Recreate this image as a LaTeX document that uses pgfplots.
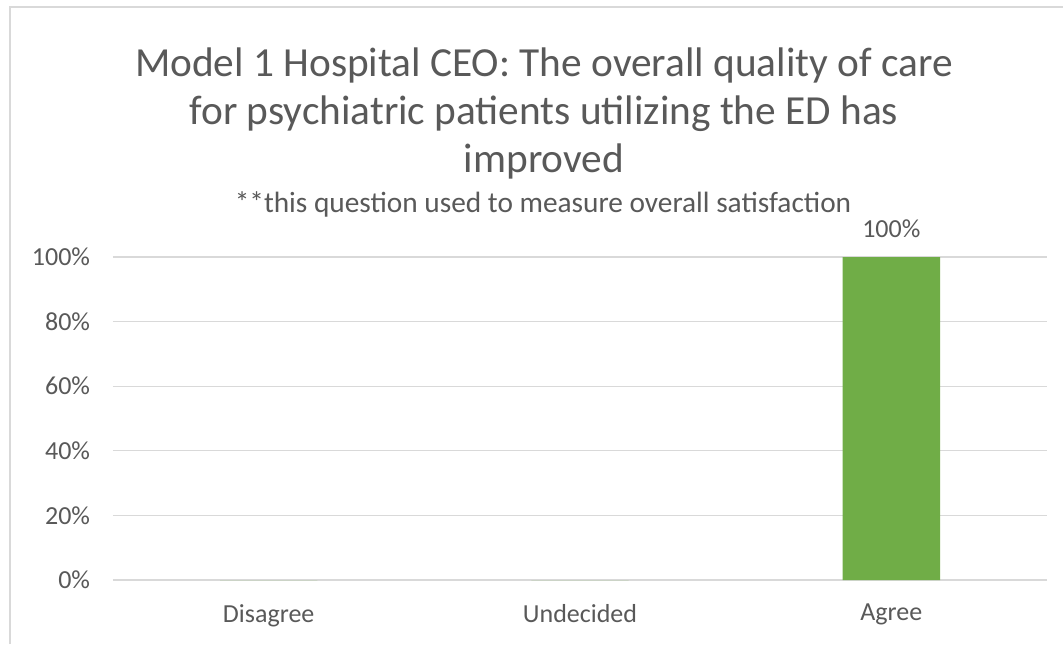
\documentclass[border=0pt]{standalone}
\usepackage{pgfplots}
\pgfplotsset{compat=1.18}
\usepackage{fontspec}
\setmainfont{Carlito}
\definecolor{txt}{HTML}{595959}
\definecolor{gridcol}{HTML}{D9D9D9}
\definecolor{bargreen}{HTML}{70AD47}
\begin{document}
\begin{tikzpicture}[x=0.75pt,y=0.75pt]
\useasboundingbox (0,0) rectangle (1063,644);
\fill[white] (0,0) rectangle (1063,644);
\draw[gridcol, line width=1.5pt] (10,0) -- (10,637) -- (1063,637);
\node[anchor=base, text=txt, font=\fontsize{31}{36}\selectfont, inner sep=0] at (544,567) {Model 1 Hospital CEO: The overall quality of care};
\node[anchor=base, text=txt, font=\fontsize{31}{36}\selectfont, inner sep=0] at (544,519) {for psychiatric patients utilizing the ED has};
\node[anchor=base, text=txt, font=\fontsize{31}{36}\selectfont, inner sep=0] at (544,472) {improved};
\node[anchor=base, text=txt, font=\fontsize{22}{26}\selectfont, inner sep=0] at (543,432) {**this question used to measure overall satisfaction};
\begin{axis}[
  at={(84.75pt,48pt)}, anchor=south west,
  scale only axis, width=700.5pt, height=242.25pt,
  xmin=-0.5, xmax=2.5, ymin=0, ymax=100,
  xtick={0,1,2}, xticklabels={Disagree,Undecided,Agree},
  ytick={0,20,40,60,80,100},
  yticklabel={\pgfmathprintnumber{\tick}\%},
  /pgf/number format/assume math mode=true,
  axis line style={draw=none},
  major tick length=0pt,
  ymajorgrids=true, xmajorgrids=false,
  y grid style={draw=gridcol, line width=1pt},
  ticklabel style={text=txt, font=\fontsize{19.5}{23}\selectfont},
  yticklabel style={anchor=east, inner sep=0pt, xshift=-17pt},
  xticklabel style={anchor=north, inner sep=0pt, yshift=-18pt},
  clip=false,
]
\addplot[ybar, bar width=73pt, fill=bargreen, draw=none,
  nodes near coords={\pgfmathfloatifflags{\pgfplotspointmeta}{0}{}{\pgfmathprintnumber{\pgfplotspointmeta}\%}},
  nodes near coords style={text=txt, font=\fontsize{19.5}{23}\selectfont, anchor=base, inner sep=0pt, yshift=15pt},
] coordinates {(0,0) (1,0) (2,100)};
\end{axis}
\end{tikzpicture}
\end{document}
